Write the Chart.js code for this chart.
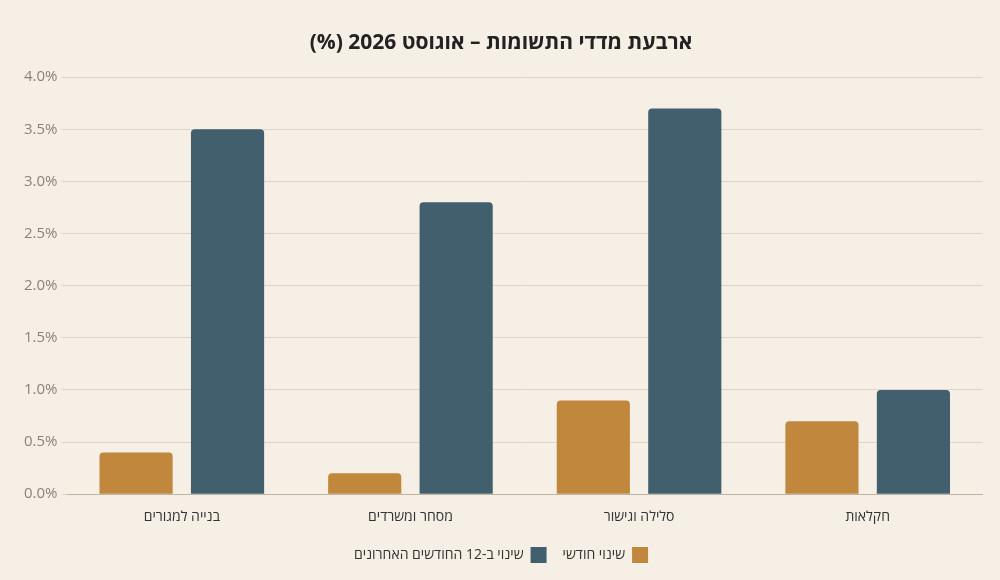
<!DOCTYPE html>
<html lang="he" dir="rtl">
<head>
<meta charset="utf-8">
<script src="https://cdn.jsdelivr.net/npm/chart.js@4.4.1/dist/chart.umd.min.js"></script>
<style>
  html, body { margin:0; padding:0; background:#f5efe6; }
  #wrap { width:1000px; height:580px; }
</style>
</head>
<body>
<div id="wrap"><canvas id="chart" width="1000" height="580"></canvas></div>
<script>
/* data */
const categories = ["בנייה למגורים", "מסחר ומשרדים", "סלילה וגישור", "חקלאות"];
const monthly = [0.4, 0.2, 0.9, 0.7];
const yearly = [3.5, 2.8, 3.7, 1.0];
const seriesNames = ["שינוי חודשי", "שינוי ב-12 החודשים האחרונים"];
const titleText = "ארבעת מדדי התשומות – אוגוסט 2026 (%)";

const FONT = "'Open Sans', 'Liberation Sans', 'DejaVu Sans', sans-serif";

const bgPlugin = {
  id: "bg",
  beforeDraw(c) {
    const ctx = c.ctx;
    ctx.save();
    ctx.fillStyle = "#f5efe6";
    ctx.fillRect(0, 0, c.width, c.height);
    ctx.restore();
  }
};

const barStyle = { borderRadius: {topLeft:4, topRight:4}, borderSkipped: "bottom", barPercentage: 0.8, categoryPercentage: 0.8 };

new Chart(document.getElementById("chart"), {
  type: "bar",
  data: {
    labels: categories,
    datasets: [
      { label: seriesNames[0], data: monthly, backgroundColor: "#c0873d", ...barStyle },
      { label: seriesNames[1], data: yearly, backgroundColor: "#415f6d", ...barStyle }
    ]
  },
  options: {
    responsive: false,
    animation: false,
    layout: { padding: { left: 20, right: 18, top: 8, bottom: 7 } },
    plugins: {
      title: {
        display: true, text: titleText, color: "#222",
        font: { family: FONT, size: 21, weight: "bold" },
        padding: { top: 22, bottom: 22 }
      },
      legend: {
        position: "bottom", rtl: true, textDirection: "rtl",
        labels: {
          color: "#333", boxWidth: 16, boxHeight: 16, padding: 16,
          font: { family: FONT, size: 14 }
        }
      },
      tooltip: { enabled: false }
    },
    scales: {
      x: {
        grid: { display: false },
        border: { color: "#bfb4a3" },
        ticks: { color: "#333", font: { family: FONT, size: 14 }, padding: 6 }
      },
      y: {
        min: 0, max: 4,
        grid: { color: "#ddd3c6", tickLength: 6 },
        border: { display: false },
        ticks: {
          stepSize: 0.5, color: "#8a8378", padding: 4,
          font: { family: FONT, size: 15 },
          callback: v => v.toFixed(1) + "%"
        }
      }
    }
  },
  plugins: [bgPlugin]
});
</script>
</body>
</html>
